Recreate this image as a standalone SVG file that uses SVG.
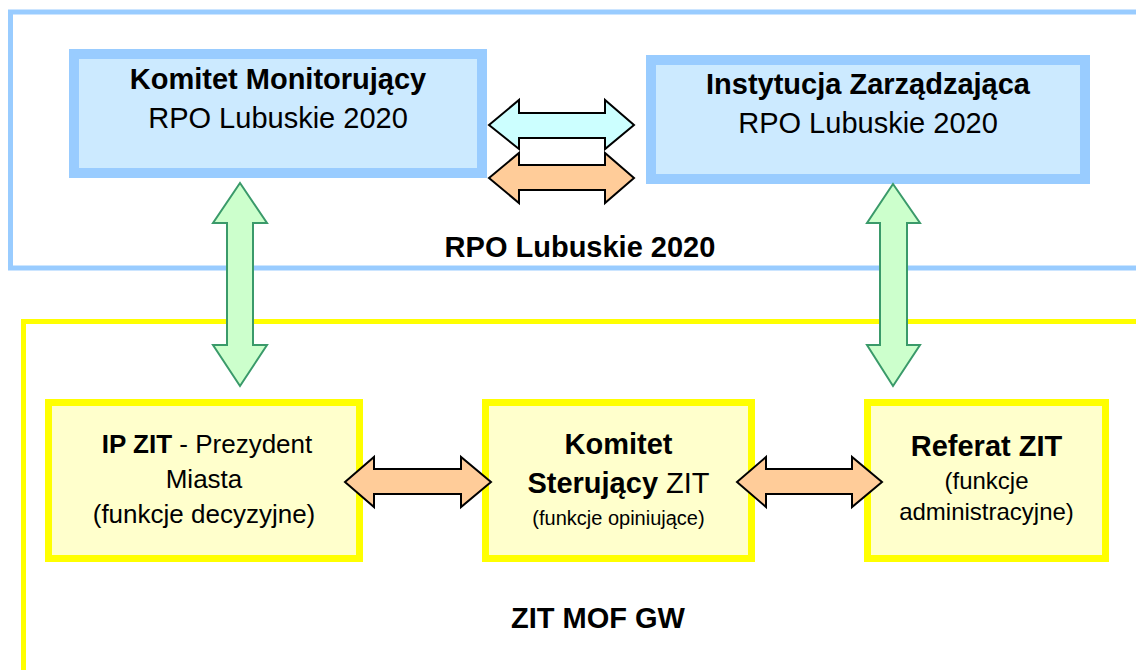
<svg xmlns="http://www.w3.org/2000/svg" width="1136" height="670" viewBox="0 0 1136 670">
<style>
.frameB{fill:none;stroke:#99ccff;stroke-width:5}
.frameY{fill:none;stroke:#ffff00;stroke-width:5}
.boxB{fill:#cceaff;stroke:#99ccff;stroke-width:10}
.boxY{fill:#ffffcc;stroke:#ffff00;stroke-width:7}
.t{font-family:"Liberation Sans",Arial,sans-serif;fill:#000;text-anchor:middle}
.b{font-weight:bold}
.green{fill:#ccffcc;stroke:#3a9a6a;stroke-width:2;stroke-linejoin:miter}
.cyan{fill:#ccffff;stroke:#000;stroke-width:2}
.orange{fill:#ffcc99;stroke:#000;stroke-width:2}
</style>
<rect width="1136" height="670" fill="#ffffff"/>
<g id="frame-rpo">
<rect class="frameB" x="10.5" y="12" width="1140" height="256"/>
<text class="t b" x="580" y="257" font-size="29">RPO Lubuskie 2020</text>
</g>
<g id="frame-zit">
<rect class="frameY" x="23.5" y="321.5" width="1130" height="360"/>
<text class="t b" x="598" y="628" font-size="29">ZIT MOF GW</text>
</g>
<g id="komitet-monitorujacy">
<rect class="boxB" x="74" y="54" width="408" height="119"/>
<text class="t b" x="278" y="89" font-size="29">Komitet Monitorujący</text>
<text class="t" x="278" y="128" font-size="29">RPO Lubuskie 2020</text>
</g>
<g id="instytucja-zarzadzajaca">
<rect class="boxB" x="651" y="60" width="434" height="119"/>
<text class="t b" x="868" y="94" font-size="29">Instytucja Zarządzająca</text>
<text class="t" x="868" y="133" font-size="29">RPO Lubuskie 2020</text>
</g>
<g id="ip-zit">
<rect class="boxY" x="48.5" y="402.5" width="311" height="156"/>
<text class="t" x="207" y="453" font-size="26"><tspan class="b">IP ZIT</tspan> - Prezydent</text>
<text class="t" x="204" y="488" font-size="26">Miasta</text>
<text class="t" x="204" y="523" font-size="26">(funkcje decyzyjne)</text>
</g>
<g id="komitet-sterujacy">
<rect class="boxY" x="485.5" y="402.5" width="266" height="156"/>
<text class="t b" x="618.5" y="454" font-size="29">Komitet</text>
<text class="t" x="618.5" y="493" font-size="29"><tspan class="b">Sterujący</tspan> ZIT</text>
<text class="t" x="618.5" y="525" font-size="20">(funkcje opiniujące)</text>
</g>
<g id="referat-zit">
<rect class="boxY" x="867.5" y="402.5" width="238" height="156"/>
<text class="t b" x="986.5" y="456" font-size="29">Referat ZIT</text>
<text class="t" x="986.5" y="489" font-size="24">(funkcje</text>
<text class="t" x="986.5" y="520" font-size="24">administracyjne)</text>
</g>
<g id="connectors">
<polygon class="cyan" points="489,125 519,100 519,113 605,113 605,100 634,125 605,149 605,138 519,138 519,149"/>
<polygon class="orange" points="489,178 519,153 519,165 605,165 605,153 634,178 605,203 605,190 519,190 519,203"/>
<polygon class="green" points="240,183 267,223 253,223 253,345 267,345 240,386 213,345 227,345 227,223 213,223"/>
<polygon class="green" points="893,184 920,223 907,223 907,345 920,345 893,386 867,345 880,345 880,223 867,223"/>
<polygon class="orange" points="345,482 374,457 374,469 461,469 461,457 491,482 461,507 461,494 374,494 374,507"/>
<polygon class="orange" points="737,482 766,457 766,469 852,469 852,457 882,482 852,507 852,494 766,494 766,507"/>
</g>
</svg>
